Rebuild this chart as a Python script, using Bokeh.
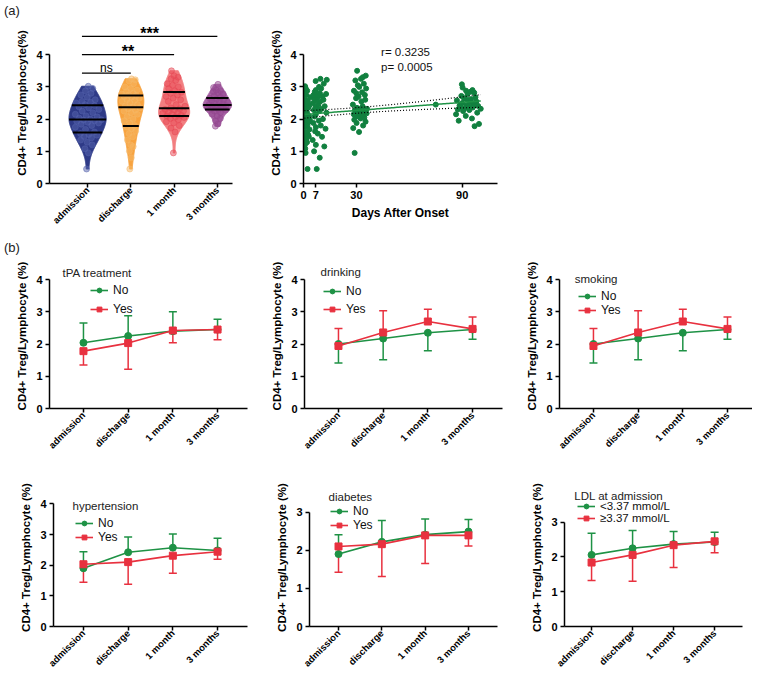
import math
import numpy as np
from bokeh.plotting import figure
from bokeh.models import (ColumnDataSource, Div, FixedTicker, Label, Legend, LegendItem,
                          Range1d, TeeHead, Whisker)
from bokeh.layouts import column, row
from bokeh.embed import file_html
from bokeh.resources import INLINE

FONT = "Liberation Sans"

# ------------------------------------------------------------------ data
CATEGORIES = ["admission", "discharge", "1 month", "3 months"]

ADMISSION_VALUES = [0.45, 0.95, 1.08, 1.20, 1.28, 1.35, 1.42, 1.46, 1.50, 1.52, 1.55,
                    1.60, 1.68, 1.75, 1.80, 1.84, 1.88, 1.90, 1.93, 1.95, 1.97, 1.98,
                    2.00, 2.03, 2.07, 2.10, 2.15, 2.20, 2.25, 2.30, 2.35, 2.38, 2.42,
                    2.45, 2.50, 2.52, 2.55, 2.60, 2.68, 2.75, 2.80, 2.88, 2.95, 3.02]
ADMISSION_DAYS = [2.3, 1.2, 1.0, 0.8, 2.0, 1.5, 0.6, 3.0, 1.1, 2.6, 0.9, 1.7, 3.4, 0.7, 2.2,
                  1.3, 0.5, 2.8, 1.0, 1.9, 3.6, 0.8, 1.4, 2.4, 0.6, 3.1, 1.1, 2.0, 0.9, 1.6,
                  2.7, 0.7, 3.3, 1.2, 1.8, 0.5, 2.5, 1.0, 3.8, 1.5, 0.8, 2.1, 1.3, 0.9]

DISCHARGE_VALUES = [0.45, 0.80, 1.00, 1.15, 1.20, 1.35, 1.45, 1.55, 1.62, 1.70, 1.75,
                    1.80, 1.88, 1.95, 2.00, 2.08, 2.15, 2.20, 2.25, 2.28, 2.32, 2.35,
                    2.38, 2.40, 2.45, 2.50, 2.55, 2.58, 2.60, 2.65, 2.68, 2.70, 2.73,
                    2.75, 2.78, 2.80, 2.85, 2.90, 2.95, 3.00, 3.10, 3.18, 3.22, 3.25]
DISCHARGE_DAYS = [7.5, 9.2, 6.0, 11.8, 7.0, 5.2, 10.5, 8.1, 6.6, 12.5, 7.0, 9.8, 5.6, 8.7,
                  11.0, 6.3, 7.0, 13.0, 9.0, 5.9, 10.2, 7.4, 6.8, 12.0, 8.4, 5.4, 9.5, 7.0,
                  11.3, 6.1, 8.0, 10.8, 7.7, 5.7, 12.8, 9.3, 6.4, 7.0, 10.0, 8.8, 11.5, 6.9,
                  13.2, 9.6]

MONTH1_VALUES = [0.95, 1.60, 1.72, 1.80, 1.88, 1.92, 1.98, 2.02, 2.05, 2.07,
                 2.10, 2.12, 2.15, 2.18, 2.20, 2.22, 2.25, 2.28, 2.30, 2.32,
                 2.35, 2.40, 2.45, 2.55, 2.60, 2.65, 2.70, 2.75, 2.80, 2.83,
                 2.88, 2.95, 3.00, 3.05, 3.10, 3.20, 3.25, 3.30, 3.35, 3.50]
MONTH1_DAYS = [29.0, 31.5, 28.2, 33.8, 30.1, 35.2, 28.8, 32.4, 34.5, 29.6,
               31.0, 33.0, 28.5, 35.8, 30.6, 32.0, 34.0, 29.2, 31.8, 36.0,
               30.3, 33.5, 28.0, 32.8, 35.0, 29.8, 31.2, 34.8, 30.0, 33.2,
               28.6, 35.5, 31.6, 30.8, 34.2, 29.4, 32.6, 33.6, 35.3, 30.4]

MONTH3_VALUES = [1.78, 1.85, 1.95, 2.02, 2.10, 2.15, 2.20, 2.25, 2.28,
                 2.30, 2.32, 2.34, 2.36, 2.38, 2.40, 2.41, 2.42, 2.42,
                 2.45, 2.48, 2.50, 2.52, 2.55, 2.58, 2.60, 2.62, 2.65,
                 2.68, 2.72, 2.78, 2.82, 2.85, 2.88, 2.90, 2.98, 3.08]
MONTH3_DAYS = [97.0, 99.5, 88.0, 95.5, 92.0, 86.5, 98.5, 90.5, 94.0,
               87.5, 100.5, 91.5, 96.0, 89.0, 93.5, 99.0, 92.5, 88.5,
               75.0, 96.5, 90.0, 94.5, 98.0, 87.0, 92.8, 95.0, 91.0,
               97.5, 89.5, 93.0, 96.8, 94.8, 92.2, 95.8, 90.2, 89.8]

GROUP_VALUES = [ADMISSION_VALUES, DISCHARGE_VALUES, MONTH1_VALUES, MONTH3_VALUES]
GROUP_DAYS = [ADMISSION_DAYS, DISCHARGE_DAYS, MONTH1_DAYS, MONTH3_DAYS]

# significance comparisons: (group a, group b, bar height, label)
SIG_BARS = [(1, 2, 3.43, "ns"), (1, 3, 4.00, "**"), (1, 4, 4.57, "***")]

CORR_TEXT = ["r=  0.3235", "p= 0.0005"]
DAY_TICKS = [0, 7, 30, 90]

# subgroup panels: mean and SD (one-sided error bar) of the two subgroups
TPA_NO_MEAN = [2.04, 2.25, 2.40, 2.45];   TPA_NO_SD = [0.61, 0.63, 0.60, 0.32]
TPA_YES_MEAN = [1.78, 2.03, 2.42, 2.45];  TPA_YES_SD = [0.43, 0.81, 0.38, 0.32]
DRINK_NO_MEAN = [2.00, 2.17, 2.35, 2.45]; DRINK_NO_SD = [0.59, 0.66, 0.56, 0.30]
DRINK_YES_MEAN = [1.94, 2.36, 2.70, 2.47]; DRINK_YES_SD = [0.54, 0.67, 0.38, 0.37]
SMOKE_NO_MEAN = [2.00, 2.17, 2.35, 2.45]; SMOKE_NO_SD = [0.59, 0.66, 0.56, 0.30]
SMOKE_YES_MEAN = [1.94, 2.36, 2.70, 2.47]; SMOKE_YES_SD = [0.54, 0.67, 0.38, 0.37]
HTN_NO_MEAN = [1.90, 2.42, 2.57, 2.48];   HTN_NO_SD = [0.54, 0.50, 0.45, 0.40]
HTN_YES_MEAN = [2.03, 2.10, 2.31, 2.44];  HTN_YES_SD = [0.59, 0.72, 0.57, 0.25]
DM_NO_MEAN = [1.90, 2.22, 2.41, 2.49];    DM_NO_SD = [0.51, 0.56, 0.41, 0.32]
DM_YES_MEAN = [2.10, 2.16, 2.39, 2.39];   DM_YES_SD = [0.68, 0.85, 0.74, 0.28]
LDL_NO_MEAN = [2.06, 2.25, 2.37, 2.43];   LDL_NO_SD = [0.62, 0.51, 0.36, 0.28]
LDL_YES_MEAN = [1.84, 2.06, 2.34, 2.45];  LDL_YES_SD = [0.52, 0.76, 0.64, 0.33]

PANELS = [
    dict(title="tPA treatment", names=["No", "Yes"], no=(TPA_NO_MEAN, TPA_NO_SD, 1),
         yes=(TPA_YES_MEAN, TPA_YES_SD, -1), yticks=[0, 1, 2, 3, 4]),
    dict(title="drinking", names=["No", "Yes"], no=(DRINK_NO_MEAN, DRINK_NO_SD, -1),
         yes=(DRINK_YES_MEAN, DRINK_YES_SD, 1), yticks=[0, 1, 2, 3, 4]),
    dict(title="smoking", names=["No", "Yes"], no=(SMOKE_NO_MEAN, SMOKE_NO_SD, -1),
         yes=(SMOKE_YES_MEAN, SMOKE_YES_SD, 1), yticks=[0, 1, 2, 3, 4]),
    dict(title="hypertension", names=["No", "Yes"], no=(HTN_NO_MEAN, HTN_NO_SD, 1),
         yes=(HTN_YES_MEAN, HTN_YES_SD, -1), yticks=[0, 1, 2, 3, 4]),
    dict(title="diabetes", names=["No", "Yes"], no=(DM_NO_MEAN, DM_NO_SD, 1),
         yes=(DM_YES_MEAN, DM_YES_SD, -1), yticks=[0, 1, 2, 3]),
    dict(title="LDL at admission", names=["<3.37 mmol/L", "\u22653.37 mmol/L"],
         no=(LDL_NO_MEAN, LDL_NO_SD, 1), yes=(LDL_YES_MEAN, LDL_YES_SD, -1), yticks=[0, 1, 2, 3]),
]

# ------------------------------------------------------------------ style / layout
VIOLIN_FILL = ["#2E3A87", "#F8A33F", "#F27E80", "#A865A6"]
VIOLIN_POINT = ["#5462AC", "#F5B866", "#E84A55", "#94488F"]
VIOLIN_HALF_WIDTH = [0.43, 0.30, 0.36, 0.33]
GREEN = "#1E9245"
RED = "#E8313F"
SCATTER_GREEN = "#11803F"

ROW_A = dict(h=216, bt=0, bb=55)
ROW_B = dict(h=200, bb=50)
ROW_C = dict(h=218, bb=50)

# per panel: width, left/right/top border, x range, y range, title pos, legend (vx, vy, spacing), legend font
PANEL_LAYOUT = [
    dict(w=263, bl=49, br=16, bt=5, xr=(0.24, 4.67), yr=(0, 4.5), tpos=(0.53, 4.22), leg=(41, 92, 5), lf="12px"),
    dict(w=255, bl=41, br=16, bt=5, xr=(0.24, 4.67), yr=(0, 4.5), tpos=(0.60, 4.25), leg=(19, 92, 4), lf="12px"),
    dict(w=234, bl=41, br=0, bt=5, xr=(0.24, 4.56), yr=(0, 4.5), tpos=(0.58, 4.03), leg=(19, 91, 0), lf="12px"),
    dict(w=263, bl=53, br=16, bt=30, xr=(0.33, 4.67), yr=(0, 4.5), tpos=(0.755, 3.94), leg=(22, 82, 0), lf="12px"),
    dict(w=255, bl=46, br=21, bt=28, xr=(0.33, 4.67), yr=(0, 3.62), tpos=(0.77, 3.39), leg=(21, 94, 0), lf="12px"),
    dict(w=234, bl=46, br=10, bt=24, xr=(0.34, 4.68), yr=(0, 3.97), tpos=(0.58, 3.75), leg=(13, 102, 0), lf="11.5px"),
]


def base_fig(width, height, xr, yr, bl, br, bt, bb):
    p = figure(width=width, height=height, x_range=Range1d(*xr), y_range=Range1d(*yr),
               output_backend="svg", toolbar_location=None,
               min_border_left=bl, min_border_right=br, min_border_top=bt, min_border_bottom=bb)
    p.xgrid.visible = False
    p.ygrid.visible = False
    p.outline_line_color = None
    p.background_fill_color = "white"
    p.border_fill_color = "white"
    for ax in (p.xaxis[0], p.yaxis[0]):
        ax.axis_line_width = 1.5
        ax.axis_line_color = "black"
        ax.major_tick_line_width = 1.5
        ax.major_tick_line_color = "black"
        ax.major_tick_out = 4
        ax.major_tick_in = 0
        ax.minor_tick_line_color = None
        ax.major_label_text_font = FONT
        ax.major_label_text_font_style = "bold"
        ax.major_label_text_color = "black"
        ax.major_label_text_font_size = "11px"
        ax.major_label_standoff = 3
        ax.axis_label_text_font = FONT
        ax.axis_label_text_font_style = "bold"
        ax.axis_label_text_color = "black"
        ax.axis_label_text_font_size = "11.5px"
        ax.axis_label_standoff = 5
    return p


def category_axis(p):
    ticks = list(range(1, len(CATEGORIES) + 1))
    p.xaxis.ticker = FixedTicker(ticks=ticks)
    p.xaxis.major_label_overrides = {t: c for t, c in zip(ticks, CATEGORIES)}
    p.xaxis.major_label_orientation = math.pi / 4
    p.xaxis.major_label_text_font_size = "9.5px"
    p.xaxis.major_label_standoff = 1


def kde_shape(vals, grid):
    v = np.asarray(vals, dtype=float)
    h = 1.06 * v.std(ddof=1) * len(v) ** (-0.2)
    d = np.exp(-0.5 * ((grid[:, None] - v[None, :]) / h) ** 2).sum(axis=1)
    return d / d.max()


def panel_letter(txt, height):
    return Div(text=txt, width=60, height=height, margin=0,
               styles={"font-family": FONT, "font-size": "13px", "line-height": f"{height}px",
                       "color": "#222222", "padding-left": "4px"})


# ------------------------------------------------------------------ (a) violin
pv = base_fig(262, ROW_A["h"], (0.12, 4.35), (0, 5.0), 49, 30, ROW_A["bt"], ROW_A["bb"])
pv.yaxis.ticker = FixedTicker(ticks=[0, 1, 2, 3, 4])
pv.yaxis.bounds = (0, 4)
pv.yaxis.axis_label = "CD4+ Treg/Lymphocyte(%)"
category_axis(pv)

for i, vals in enumerate(GROUP_VALUES):
    xc = i + 1
    v = np.asarray(vals, dtype=float)
    grid = np.linspace(v.min(), v.max(), 160)
    w = kde_shape(v, grid) * VIOLIN_HALF_WIDTH[i]
    xs = np.concatenate([xc + w, (xc - w)[::-1]])
    ys = np.concatenate([grid, grid[::-1]])
    pv.patch(xs, ys, fill_color=VIOLIN_FILL[i], line_color=VIOLIN_FILL[i], line_width=1)
    jit = ((np.arange(len(v)) * 0.618034) % 1.0) * 2 - 1
    px = xc + np.interp(v, grid, w) * 0.78 * jit
    pv.scatter(px, v, size=6, fill_color=VIOLIN_POINT[i], line_color=VIOLIN_POINT[i],
               fill_alpha=0.5, line_alpha=0.5)
    q = np.percentile(v, [25, 50, 75])
    wq = np.interp(q, grid, w)
    pv.segment(x0=xc - wq, y0=q, x1=xc + wq, y1=q, line_color="black", line_width=2)

for a, b, yb, txt in SIG_BARS:
    x0 = a - 0.13
    pv.line([x0, b], [yb, yb], line_color="black", line_width=1.3)
    if txt == "ns":
        pv.add_layout(Label(x=(x0 + b) / 2, y=yb + 0.17, text=txt, text_font=FONT,
                            text_font_size="12px", text_align="center",
                            text_baseline="alphabetic", text_color="black"))
    else:
        pv.add_layout(Label(x=(x0 + b) / 2, y=yb + 0.10, text=txt, text_font=FONT,
                            text_font_size="16px", text_font_style="bold", text_align="center",
                            text_baseline="alphabetic", text_color="black"))

# ------------------------------------------------------------------ (a) scatter
ps = base_fig(295, ROW_A["h"], (0, 110), (0, 5.0), 41, 60, ROW_A["bt"], ROW_A["bb"])
ps.yaxis.ticker = FixedTicker(ticks=[0, 1, 2, 3, 4])
ps.yaxis.bounds = (0, 4)
ps.yaxis.axis_label = "CD4+ Treg/Lymphocyte(%)"
ps.xaxis.ticker = FixedTicker(ticks=DAY_TICKS)
ps.xaxis.axis_label = "Days After Onset"
ps.xaxis.axis_label_text_font_size = "12px"
ps.xaxis.axis_label_standoff = 4

all_days = np.concatenate([np.asarray(d, float) for d in GROUP_DAYS])
all_vals = np.concatenate([np.asarray(v, float) for v in GROUP_VALUES])
ps.scatter(all_days, all_vals, size=5, fill_color=SCATTER_GREEN, line_color=SCATTER_GREEN)

slope, intercept = np.polyfit(all_days, all_vals, 1)
n = len(all_days)
resid = all_vals - (slope * all_days + intercept)
s = math.sqrt((resid ** 2).sum() / (n - 2))
xbar = all_days.mean()
sxx = ((all_days - xbar) ** 2).sum()
xf = np.linspace(all_days.min(), all_days.max(), 100)
yf = slope * xf + intercept
se = s * np.sqrt(1.0 / n + (xf - xbar) ** 2 / sxx)
ps.line(xf, yf, line_color=GREEN, line_width=1.5)
ps.line(xf, yf + 1.977 * se, line_color="black", line_width=1.2, line_dash="1 2")
ps.line(xf, yf - 1.977 * se, line_color="black", line_width=1.2, line_dash="1 2")

for k, t in enumerate(CORR_TEXT):
    ps.add_layout(Label(x=44, y=4.07 - 0.45 * k, text=t, text_font=FONT, text_font_size="11.5px",
                        text_baseline="middle", text_align="left", text_color="#111111"))

# ------------------------------------------------------------------ (b) subgroup panels
line_figs = []
for idx, (spec, lay) in enumerate(zip(PANELS, PANEL_LAYOUT)):
    rowspec = ROW_B if idx < 3 else ROW_C
    p = base_fig(lay["w"], rowspec["h"], lay["xr"], lay["yr"], lay["bl"], lay["br"],
                 lay["bt"], rowspec["bb"])
    p.yaxis.ticker = FixedTicker(ticks=spec["yticks"])
    p.yaxis.bounds = (0, spec["yticks"][-1])
    p.yaxis.axis_label = "CD4+ Treg/Lymphocyte (%)"
    category_axis(p)
    xs = list(range(1, len(CATEGORIES) + 1))
    items = []
    for key, color, marker in (("no", GREEN, "circle"), ("yes", RED, "square")):
        mean, sd, d = spec[key]
        upper = [m + s_ if d > 0 else m for m, s_ in zip(mean, sd)]
        lower = [m if d > 0 else m - s_ for m, s_ in zip(mean, sd)]
        src = ColumnDataSource(dict(x=xs, upper=upper, lower=lower))
        head = TeeHead(size=8, line_color=color, line_width=1.5)
        wk = Whisker(source=src, base="x", upper="upper", lower="lower", line_color=color,
                     line_width=1.5, upper_head=head if d > 0 else None,
                     lower_head=head if d < 0 else None)
        p.add_layout(wk)
        ln = p.line(xs, mean, line_color=color, line_width=1.6)
        sc = p.scatter(xs, mean, marker=marker, size=7, fill_color=color, line_color=color)
        items.append((ln, sc))
    leg = Legend(items=[LegendItem(label=spec["names"][0], renderers=list(items[0])),
                        LegendItem(label=spec["names"][1], renderers=list(items[1]))],
                 location=(lay["leg"][0], lay["leg"][1]), spacing=lay["leg"][2],
                 glyph_width=18, glyph_height=12, label_height=12, label_standoff=5,
                 padding=0, margin=0, background_fill_alpha=0, border_line_color=None,
                 label_text_font=FONT, label_text_font_size=lay["lf"], label_text_color="#111111")
    p.add_layout(leg)
    p.add_layout(Label(x=lay["tpos"][0], y=lay["tpos"][1], text=spec["title"], text_font=FONT,
                       text_font_size="11.5px", text_baseline="middle", text_align="left",
                       text_color="#222222"))
    line_figs.append(p)

layout = column(panel_letter("(a)", 22), row(pv, ps), panel_letter("(b)", 20),
                row(*line_figs[:3]), row(*line_figs[3:]))
open("out.html", "w").write(file_html(layout, INLINE))
